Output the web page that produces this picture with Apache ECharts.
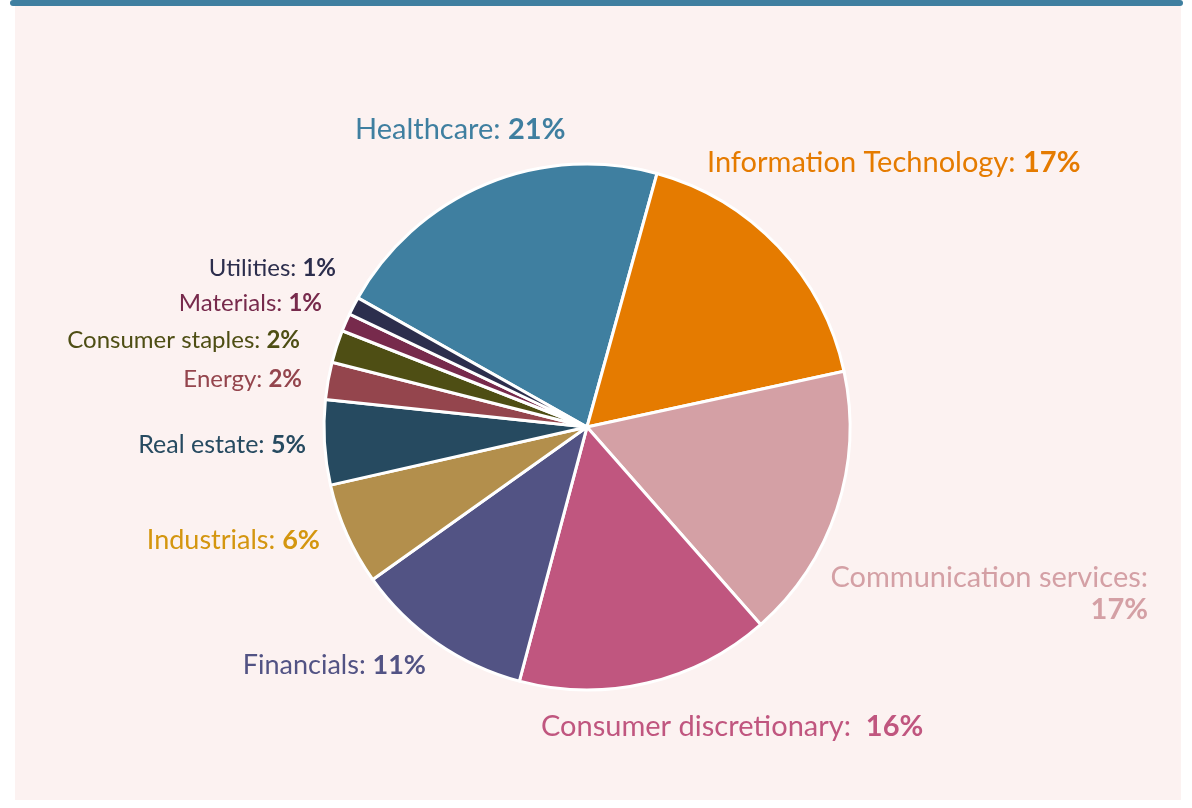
<!DOCTYPE html>
<html>
<head>
<meta charset="utf-8">
<style>
  html, body { margin: 0; padding: 0; background: #ffffff; }
  #chart { width: 1192px; height: 808px; }
</style>
<script src="https://cdn.jsdelivr.net/npm/echarts@6/dist/echarts.min.js"></script>
</head>
<body>
<div id="chart"></div>
<script>
// sector weights, clockwise from Healthcare
const sectors = ["Healthcare", "Information Technology", "Communication services", "Consumer discretionary",
  "Financials", "Industrials", "Real estate", "Energy", "Consumer staples", "Materials", "Utilities"];
const shares = [21.1, 17.3, 16.9, 15.6, 11.0, 6.3, 5.2, 2.3, 2.0, 1.1, 1.1];

const sliceColors = ["#3f7fa0", "#e57b00", "#d4a0a5", "#c0567f", "#525384", "#b38f4c",
  "#264a60", "#94454d", "#4e4e14", "#772a4c", "#2c2e4d"];
const labelColors = ["#3f7fa0", "#e57b00", "#d4a0a5", "#c0567f", "#525384", "#d4960f",
  "#264a60", "#94454d", "#4e4e14", "#772a4c", "#2c2e4d"];
const labelSizes = [29, 29, 29, 29, 27, 27, 25, 24, 24, 24, 24];

// label anchors [x, y, align]
const labelSpots = [
  [355, 130, "left"], [707, 163, "left"], [1148, 594, "right"], [541, 727, "left"],
  [426, 665, "right"], [320, 540, "right"], [306, 445, "right"], [302, 379, "right"],
  [300, 340, "right"], [322, 303, "right"], [336, 268, "right"]
];

const chart = echarts.init(document.getElementById("chart"));

const pieData = sectors.map((name, i) => ({
  name: name,
  value: shares[i],
  itemStyle: { color: sliceColors[i] },
  label: {
    color: labelColors[i],
    rich: {
      n: { fontSize: labelSizes[i], color: labelColors[i], fontFamily: "Lato", lineHeight: 32 },
      p: { fontSize: labelSizes[i], color: labelColors[i], fontFamily: "Lato", fontWeight: "bold", lineHeight: 32 }
    }
  }
}));

chart.setOption({
  backgroundColor: "#ffffff",
  animation: false,
  graphic: [
    { type: "rect", shape: { x: 15, y: 6, width: 1166, height: 794 }, style: { fill: "#fcf2f1" }, z: -10 },
    { type: "rect", shape: { x: 10, y: 0, width: 1173, height: 6, r: 3 }, style: { fill: "#3f7fa0" }, z: -9 }
  ],
  series: [{
    type: "pie",
    center: [587, 427],
    radius: 263,
    startAngle: 150.6,
    clockwise: true,
    avoidLabelOverlap: false,
    itemStyle: { borderColor: "#ffffff", borderWidth: 3 },
    labelLine: { show: false },
    label: {
      show: true,
      position: "outside",
      formatter: p => {
        const pct = Math.round(p.percent) + "%";
        if (p.dataIndex === 2) return "{n|" + p.name + ":}\n{p|" + pct + "}";
        if (p.dataIndex === 3) return "{n|" + p.name + ":  }{p|" + pct + "}";
        return "{n|" + p.name + ": }{p|" + pct + "}";
      }
    },
    labelLayout: params => {
      const s = labelSpots[params.dataIndex];
      return { x: s[0], y: s[1], align: s[2], verticalAlign: "middle" };
    },
    emphasis: { disabled: true },
    data: pieData
  }]
});
</script>
</body>
</html>
